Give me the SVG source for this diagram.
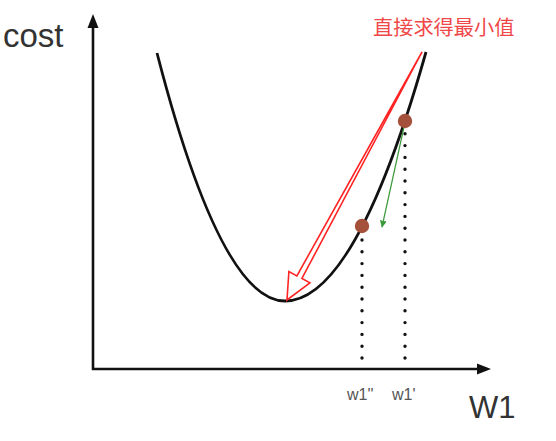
<svg xmlns="http://www.w3.org/2000/svg" width="556" height="441" viewBox="0 0 556 441">
<style>
.axis{stroke:#111;stroke-width:2.6;fill:none}
.curve{stroke:#111;stroke-width:2.8;fill:none}
.dots{stroke:#111;stroke-width:3.4;stroke-linecap:round;stroke-dasharray:0 11.8;fill:none}
.pt{fill:#a4503b}
.lbl{font-family:"Liberation Sans",Arial,sans-serif;fill:#333}
</style>
<defs>
<marker id="ga" viewBox="0 0 10 10" refX="9" refY="5" markerWidth="7" markerHeight="7" markerUnits="userSpaceOnUse" orient="auto">
<path d="M0,0 L10,5 L0,10 Z" fill="#3d9a3d"/>
</marker>
</defs>
<rect width="556" height="441" fill="#fff"/>
<g id="axes">
<line class="axis" x1="93" y1="370" x2="93" y2="24"/>
<path d="M87.5,28 L93,14 L98.5,28 Z" fill="#111"/>
<line class="axis" x1="92" y1="369" x2="480" y2="369"/>
<path d="M477,363.5 L491,369 L477,374.5 Z" fill="#111"/>
</g>
<g id="curve">
<path class="curve" d="M157,53 Q221,301 285,301 Q355.5,301 426,52"/>
</g>
<g id="connectors">
<line class="dots" x1="405" y1="358" x2="405" y2="132"/>
<line class="dots" x1="362" y1="358" x2="362" y2="236"/>
<polygon points="422,52 301.9,278.5 309.9,282.9 287,300 288.9,271.5 296.9,275.9" fill="none" stroke="#ff2424" stroke-width="1.6" stroke-linejoin="miter"/>
<line x1="404" y1="127" x2="382" y2="227" stroke="#3d9a3d" stroke-width="1.2" marker-end="url(#ga)"/>
</g>
<g id="point1"><circle class="pt" cx="405" cy="121" r="7.2"/></g>
<g id="point2"><circle class="pt" cx="362" cy="226" r="7.2"/></g>
<g id="labels">
<text class="lbl" x="3" y="47" font-size="33">cost</text>
<text class="lbl" x="469" y="418" font-size="31">W1</text>
<text class="lbl" x="347" y="400" font-size="16" style="fill:#555">w1''</text>
<text class="lbl" x="392" y="400" font-size="16" style="fill:#555">w1'</text>
<text x="373" y="35" font-size="20.2" fill="#f04848" font-family="'Noto Sans CJK SC','Noto Sans CJK JP',sans-serif">直接求得最小值</text>
</g>
</svg>
